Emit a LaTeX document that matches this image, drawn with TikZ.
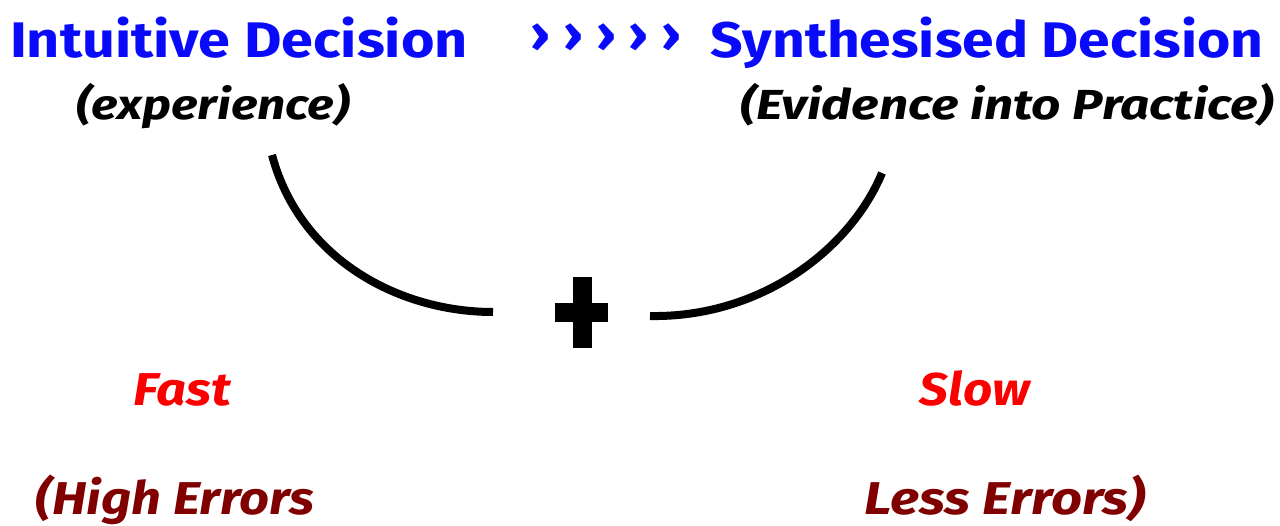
\documentclass[tikz,border=0pt]{standalone}
\usepackage{fontspec}
\setmainfont{Fira Sans}
\definecolor{titleblue}{RGB}{10,10,250}
\definecolor{fastred}{RGB}{250,0,0}
\definecolor{errred}{RGB}{128,0,0}
\newcommand\hstretch[2]{\scalebox{#1}[1]{#2}}
\tikzset{
  title/.style={anchor=base, inner sep=0pt, text=titleblue, font=\fontsize{50}{60}\selectfont\bfseries},
  sub/.style={anchor=base, inner sep=0pt, text=black, font=\fontsize{42}{50}\selectfont\bfseries\itshape},
  speed/.style={anchor=base, inner sep=0pt, text=fastred, font=\fontsize{46}{54}\selectfont\bfseries\itshape},
  err/.style={anchor=base, inner sep=0pt, text=errred, font=\fontsize{46}{54}\selectfont\bfseries\itshape},
  arc/.style={line width=8pt, black},
}
\begin{document}
\begin{tikzpicture}[x=1pt,y=-1pt]
\useasboundingbox (0,0) rectangle (1280,526);
\node[title] (intuitive) at (239,58) {\hstretch{1.15}{Intuitive Decision}};
\node[title] (chev) at (606,52) {\hstretch{1.1}{› › › › ›}};
\node[title] (synth) at (987,58) {\hstretch{1.14}{Synthesised Decision}};
\node[sub] (exp) at (213,120) {\hstretch{1.18}{(experience)}};
\node[sub] (evid) at (1007,120) {\hstretch{1.22}{(Evidence into Practice)}};
\coordinate (lstart) at (272,155);
\coordinate (lend) at (493,312);
\coordinate (rstart) at (882,173);
\coordinate (rend) at (650,316);
\draw[arc] (lstart) .. controls (300,260) and (400,312) .. (lend);
\draw[arc] (rstart) .. controls (850,250) and (760,318) .. (rend);
\fill[black] (573,277) rectangle (592,348);
\fill[black] (555,303) rectangle (608,322);
\node[speed] (fast) at (182,406) {\hstretch{1.14}{Fast}};
\node[speed] (slow) at (975,406) {\hstretch{1.11}{Slow}};
\node[err] (high) at (175,514) {\hstretch{1.14}{(High Errors}};
\node[err] (less) at (1005,514) {\hstretch{1.18}{Less Errors)}};
\end{tikzpicture}
\end{document}
